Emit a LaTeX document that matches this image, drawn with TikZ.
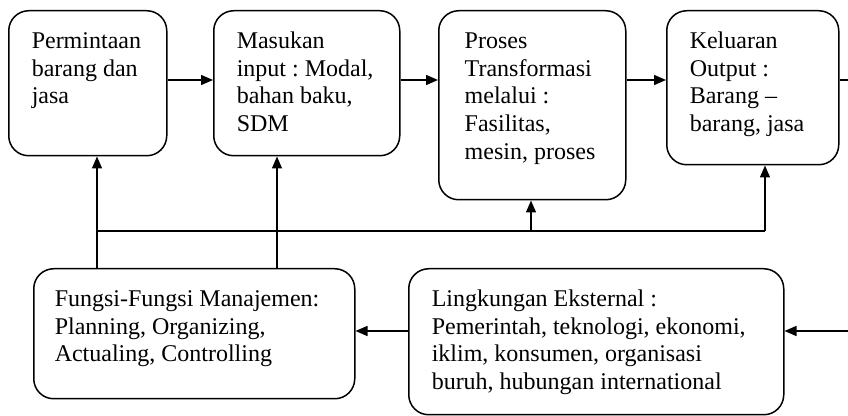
\documentclass[tikz,border=0pt]{standalone}
\usepackage{fontspec}
\setmainfont{Liberation Serif}
\usepackage{tikz}
\usetikzlibrary{arrows.meta,positioning,calc}
\frenchspacing
\tikzstyle{kotak} = [draw=black, line width=0.75pt, rounded corners=10pt, inner sep=0pt, anchor=north west, font=\fontsize{12}{13.8}\selectfont]
\tikzstyle{garis} = [black, line width=0.75pt]
\tikzstyle{panah} = [garis, -{Triangle[length=6pt,width=5pt]}]
\newcommand{\isi}[4][11.5pt]{\hspace*{#1}\parbox[c][#3][t]{#2}{\vspace*{9.3pt}\strut #4}}

\begin{document}
\begin{tikzpicture}[x=0.5pt,y=-0.5pt]
			\useasboundingbox (0,0) rectangle (848,416);
			
			\node[kotak] (minta) at (8,10) {\isi{67.5pt}{72.5pt}{Permintaan\\barang dan\\jasa}};
			\node[kotak] (masuk) at (213,10) {\isi{81.5pt}{72.5pt}{Masukan\\input : Modal,\\bahan baku,\\SDM}};
			\node[kotak] (proses) at (438,10) {\isi[13pt]{80.5pt}{94.5pt}{Proses\\Transformasi\\melalui :\\Fasilitas,\\mesin, proses}};
			\node[kotak] (keluar) at (666,10) {\isi{74.5pt}{77pt}{Keluaran\\Output :\\Barang --\\barang, jasa}};
			\node[kotak] (fungsi) at (33,268) {\isi[10.5pt]{150pt}{65pt}{Fungsi-Fungsi Manajemen:\\Planning, Organizing,\\Actualing, Controlling}};
			\node[kotak] (eksternal) at (408,268) {\isi{176pt}{73pt}{Lingkungan Eksternal :\\Pemerintah, teknologi, ekonomi,\\iklim, konsumen, organisasi\\buruh, hubungan international}};
			
			\coordinate (atas) at (848,80);
			\coordinate (bawah) at (848,331);
			\coordinate (ka) at (97,231);
			\coordinate (kb) at (277,231);
			\coordinate (kc) at (531,231);
			\coordinate (kd) at (765,231);
			
			\draw[panah] (minta.east |- atas) -- (masuk.west |- atas);
			\draw[panah] (masuk.east |- atas) -- (proses.west |- atas);
			\draw[panah] (proses.east |- atas) -- (keluar.west |- atas);
			\draw[garis] (keluar.east |- atas) -- (atas);
			
			\draw[panah] (bawah) -- (eksternal.east |- bawah);
			\draw[panah] (eksternal.west |- bawah) -- (fungsi.east |- bawah);
			
			\draw[panah] (fungsi.north -| ka) -- (minta.south -| ka);
			\draw[panah] (fungsi.north -| kb) -- (masuk.south -| kb);
			\draw[garis] (ka) -- (kd);
			\draw[panah] (kc) -- (proses.south -| kc);
			\draw[panah] (kd) -- (keluar.south -| kd);
		\end{tikzpicture}
\end{document}
